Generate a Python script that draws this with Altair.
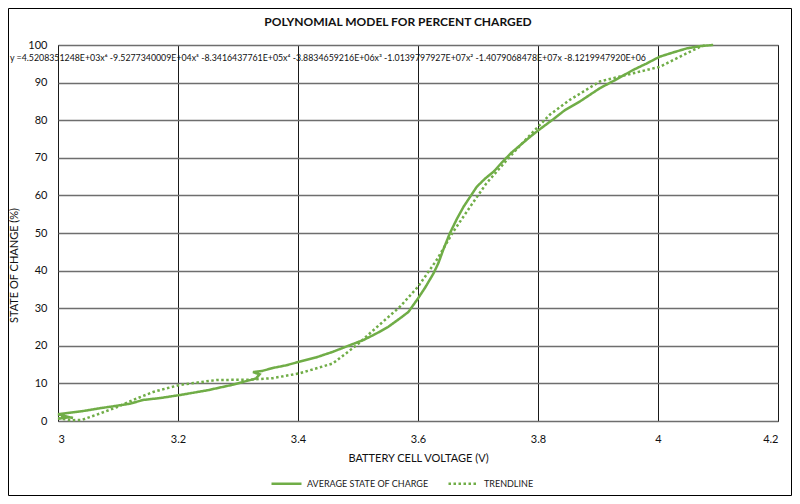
import pandas as pd
import altair as alt

GREEN = "#70AD47"

# average state of charge (voltage, percent), in drawing order
soc_v = [3.000, 3.020, 3.005, 3.025, 3.000, 3.040, 3.070, 3.100, 3.120, 3.142, 3.170,
         3.203, 3.250, 3.290, 3.330, 3.336, 3.325, 3.340, 3.358, 3.380, 3.403, 3.430,
         3.458, 3.487, 3.510, 3.531, 3.550, 3.570, 3.584, 3.600, 3.612, 3.626, 3.634,
         3.642, 3.653, 3.665, 3.676, 3.698, 3.712, 3.726, 3.740, 3.756, 3.770, 3.787,
         3.803, 3.825, 3.845, 3.870, 3.903, 3.930, 3.959, 3.980, 4.003, 4.025, 4.048,
         4.070, 4.092]
soc_pct = [0.6, 1.0, 1.3, 0.8, 1.8, 2.6, 3.4, 4.1, 4.6, 5.6, 6.1,
           6.9, 8.2, 9.6, 11.3, 12.4, 13.0, 13.3, 14.1, 14.8, 15.8, 16.9,
           18.4, 20.2, 21.6, 23.3, 25.0, 27.3, 29.0, 32.6, 35.5, 39.3, 42.0,
           45.5, 49.9, 53.8, 57.0, 62.3, 64.5, 66.3, 68.8, 71.4, 73.3, 75.6,
           77.6, 80.2, 82.7, 85.0, 88.5, 90.8, 93.4, 95.0, 96.9, 98.0, 99.1,
           99.7, 100.0]

# polynomial trendline (voltage, percent)
trend_v = [3.000, 3.020, 3.040, 3.070, 3.100, 3.125, 3.160, 3.203, 3.264, 3.320,
           3.358, 3.403, 3.458, 3.498, 3.526, 3.570, 3.600, 3.631, 3.659, 3.687,
           3.714, 3.753, 3.787, 3.820, 3.853, 3.903, 3.959, 4.003, 4.048, 4.070,
           4.080]
trend_pct = [0.8, 0.2, 0.3, 2.0, 3.8, 5.6, 7.8, 9.6, 10.9, 11.0,
             11.4, 12.7, 15.3, 20.2, 24.2, 30.4, 35.7, 42.8, 50.4, 57.0,
             63.2, 70.3, 76.1, 81.5, 85.4, 90.3, 92.5, 94.2, 97.8, 99.5,
             100.0]

series = ["AVERAGE STATE OF CHARGE", "TRENDLINE"]
x_ticks = [3, 3.2, 3.4, 3.6, 3.8, 4, 4.2]
y_ticks = [0, 10, 20, 30, 40, 50, 60, 70, 80, 90, 100]

title = "POLYNOMIAL MODEL FOR PERCENT CHARGED"
equation = ("y =4.5208351248E+03x\u2076 -9.5277340009E+04x\u2075 -8.3416437761E+05x\u2074 "
            "-3.8834659216E+06x\u00b3 -1.0139797927E+07x\u00b2 -1.4079068478E+07x "
            "-8.1219947920E+06")

df = pd.concat([
    pd.DataFrame({"v": soc_v, "pct": soc_pct, "series": series[0], "idx": range(len(soc_v))}),
    pd.DataFrame({"v": trend_v, "pct": trend_pct, "series": series[1], "idx": range(len(trend_v))}),
])

lines = alt.Chart(df).mark_line(strokeWidth=2.5, strokeCap="butt").encode(
    x=alt.X("v:Q", scale=alt.Scale(domain=[3, 4.2], nice=False),
            axis=alt.Axis(values=x_ticks, title="BATTERY CELL VOLTAGE (V)", format="~g",
                          gridColor="#1a1a1a", gridWidth=1, labelPadding=12, titlePadding=8)),
    y=alt.Y("pct:Q", scale=alt.Scale(domain=[0, 100], nice=False),
            axis=alt.Axis(values=y_ticks, title="STATE OF CHANGE (%)", labelOverlap=False,
                          gridColor="#6e6e6e", gridWidth=1.5, labelPadding=11,
                          titleX=-44, titleY=220, titleAlign="center", titleBaseline="middle")),
    color=alt.Color("series:N", scale=alt.Scale(domain=series, range=[GREEN, GREEN]),
                    legend=alt.Legend(title=None, orient="none", legendX=212, legendY=422,
                                      direction="horizontal", symbolType="stroke",
                                      symbolStrokeWidth=2.5, symbolSize=900, labelFontSize=9,
                                      labelColor="#1a1a1a", columnPadding=14, labelOffset=4)),
    strokeDash=alt.StrokeDash("series:N", scale=alt.Scale(domain=series, range=[[1, 0], [2.5, 2.5]]),
                              legend=alt.Legend(title=None, orient="none", legendX=212, legendY=422,
                                                direction="horizontal", symbolType="stroke")),
    order="idx:Q",
)

eq = alt.Chart(pd.DataFrame({"t": [equation]})).mark_text(
    align="left", baseline="middle", fontSize=8.8, font="Lato", color="#111"
).encode(x=alt.value(-48), y=alt.value(13), text="t:N")

head = alt.Chart(pd.DataFrame({"t": [title]})).mark_text(
    align="center", baseline="middle", fontSize=12, font="Lato", fontWeight="bold", color="#111"
).encode(x=alt.value(340), y=alt.value(-23), text="t:N")

frame = alt.Chart(pd.DataFrame({"a": [0]})).mark_rect(
    fill="transparent", stroke="#000", strokeWidth=1
).encode(x=alt.value(-49.5), x2=alt.value(733.5), y=alt.value(-36.5), y2=alt.value(450.5))

chart = alt.layer(frame, lines, eq, head).properties(
    width=720, height=376,
    autosize=alt.AutoSizeParams(type="none"),
    padding={"left": 50, "top": 37, "right": 14, "bottom": 75},
).configure_view(stroke="#000", strokeWidth=1).configure_axis(
    domain=False, ticks=False, labelFont="Lato", titleFont="Lato", labelFontSize=11,
    titleFontSize=11, labelColor="#111", titleColor="#111", titleFontWeight="normal"
).configure_legend(labelFont="Lato")

chart.save("out.html", embed_options={"renderer": "svg", "actions": False})
